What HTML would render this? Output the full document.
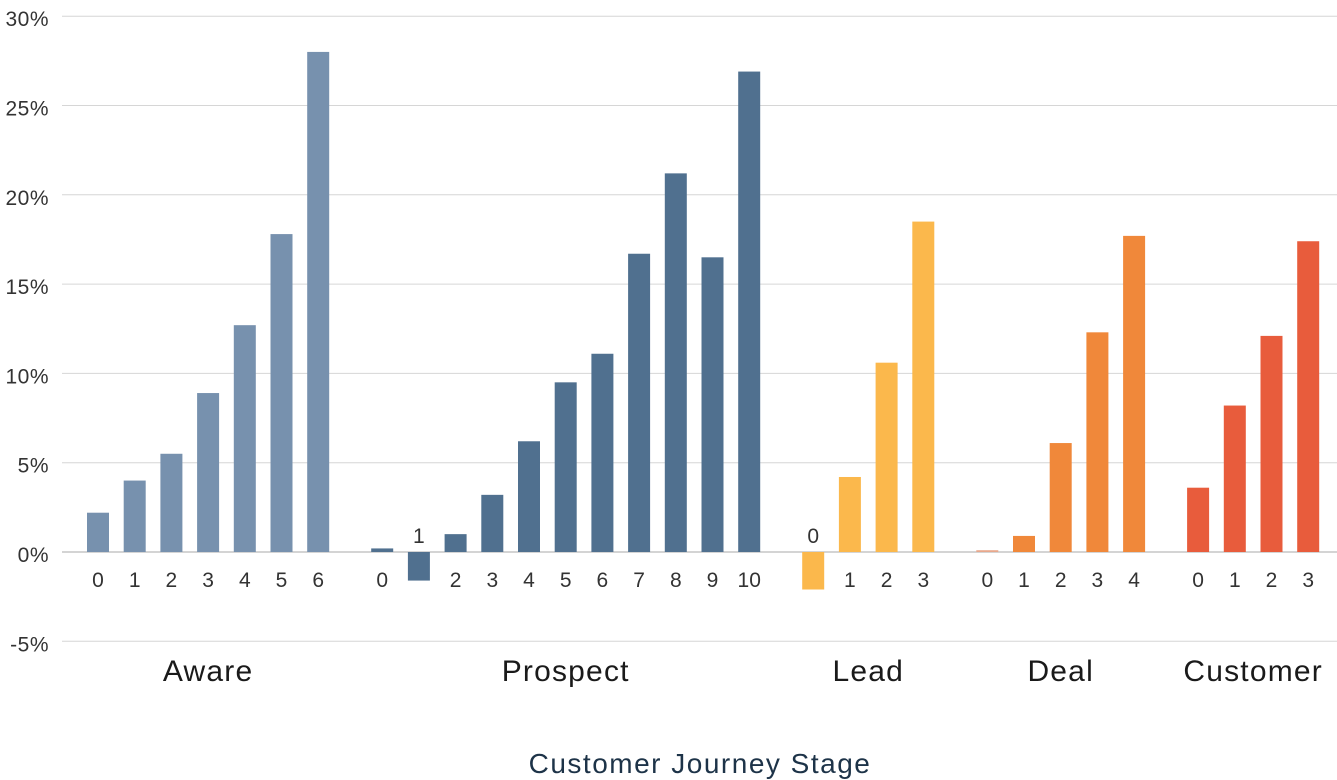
<!DOCTYPE html>
<html><head><meta charset="utf-8"><style>
html,body{margin:0;padding:0;background:#fff;width:1337px;height:780px;overflow:hidden}
svg{display:block;font-family:"Liberation Sans",sans-serif}
</style></head><body>
<svg id="chart" width="1337" height="780" viewBox="0 0 1337 780"></svg>
<script>
const groups = ["Aware","Prospect","Lead","Deal","Customer"];
const awareValues = [2.2,4.0,5.5,8.9,12.7,17.8,28.0];
const prospectValues = [0.2,-1.6,1.0,3.2,6.2,9.5,11.1,16.7,21.2,16.5,26.9];
const leadValues = [-2.1,4.2,10.6,18.5];
const dealValues = [0.1,0.9,6.1,12.3,17.7];
const customerValues = [3.6,8.2,12.1,17.4];
const yTicks = [-5,0,5,10,15,20,25,30];
const yTickLabels = ["-5%","0%","5%","10%","15%","20%","25%","30%"];
const seriesValues = [awareValues,prospectValues,leadValues,dealValues,customerValues];
const colors = ["#7791ae","#50708f","#fbb84c","#f0883a","#e85c3c"];

const NS="http://www.w3.org/2000/svg";
const svg=document.getElementById('chart');
function y(v){return 552 - v*17.86;}
function xPos(i,g){return 98 + i*36.7 + g*27.3;}
function mk(tag,attrs,text){const e=document.createElementNS(NS,tag);for(const k in attrs)e.setAttribute(k,attrs[k]);if(text!==undefined)e.textContent=text;svg.appendChild(e);return e;}

yTicks.forEach((t,i)=>{
  const l=mk('line',{x1:62,x2:1337,y1:y(t),y2:y(t),stroke:t===0?'#aaaaaa':'#d6d6d6','stroke-width':1});
  
  
  const tx=mk('text',{x:49,y:y(t)+10,'text-anchor':'end','font-size':21,fill:'#333','letter-spacing':'0.5'},yTickLabels[i]);
  
  
});

let idx=0;
seriesValues.forEach((vals,g)=>{
  const start=idx;
  vals.forEach((v,j)=>{
    const cx=xPos(idx,g);
    const top=Math.min(y(v),y(0)), h=Math.abs(y(v)-y(0));
    const r=mk('rect',{x:cx-11,y:top,width:22,height:Math.max(h,1),fill:(g===3&&j===0)?'#e8a88c':colors[g]});
    
    
    const ly = v<0 ? y(0)-9 : y(0)+35;
    const t=mk('text',{x:cx,y:ly,'text-anchor':'middle','font-size':21,fill:'#333'},String(j));
    
    
    idx++;
  });
  const center=(xPos(start,g)+xPos(idx-1,g))/2;
  const gl=mk('text',{x:center,y:681,'text-anchor':'middle','font-size':30,fill:'#1a1a1a','letter-spacing':'1.2'},groups[g]);
  
  
});

const at=mk('text',{x:700,y:773,'text-anchor':'middle','font-size':28,fill:'#1d3348','letter-spacing':'1.5'},'Customer Journey Stage');


</script>
</body></html>
